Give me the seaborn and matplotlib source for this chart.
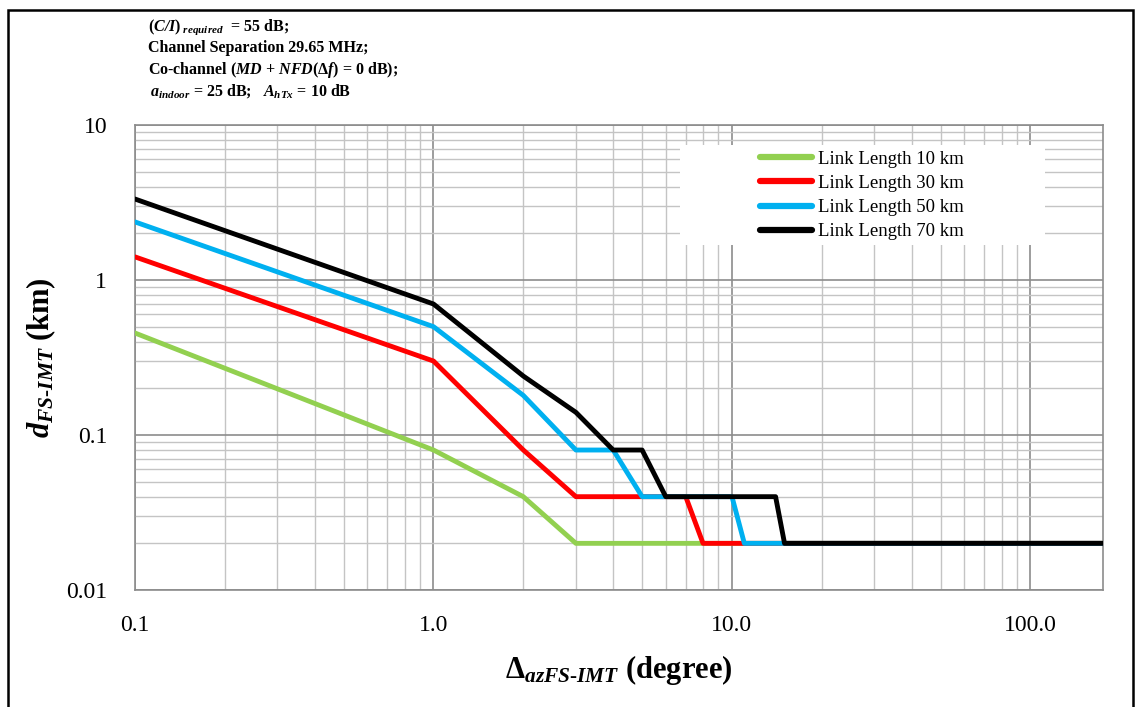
import numpy as np
import pandas as pd
import matplotlib
matplotlib.use("Agg")
import matplotlib.pyplot as plt
import seaborn as sns
from matplotlib.patches import Rectangle
from matplotlib.lines import Line2D
from matplotlib.ticker import FixedLocator, FixedFormatter, LogLocator, NullFormatter

# ---- data ----
angles = [0.1, 1, 2, 3, 4, 5, 6, 7, 8, 9, 10, 11, 12, 13, 14, 15, 180]
d_10km = [0.455, 0.08, 0.04, 0.02, 0.02, 0.02, 0.02, 0.02, 0.02, 0.02, 0.02, 0.02, 0.02, 0.02, 0.02, 0.02, 0.02]
d_30km = [1.41, 0.30, 0.08, 0.04, 0.04, 0.04, 0.04, 0.04, 0.02, 0.02, 0.02, 0.02, 0.02, 0.02, 0.02, 0.02, 0.02]
d_50km = [2.37, 0.50, 0.18, 0.08, 0.08, 0.04, 0.04, 0.04, 0.04, 0.04, 0.04, 0.02, 0.02, 0.02, 0.02, 0.02, 0.02]
d_70km = [3.33, 0.70, 0.24, 0.14, 0.08, 0.08, 0.04, 0.04, 0.04, 0.04, 0.04, 0.04, 0.04, 0.04, 0.04, 0.02, 0.02]
series_names = ["Link Length 10 km", "Link Length 30 km", "Link Length 50 km", "Link Length 70 km"]
series_values = [d_10km, d_30km, d_50km, d_70km]
colors = ["#92D050", "#FF0000", "#00B0F0", "#000000"]
x_ticks = [0.1, 1, 10, 100]
x_ticklabels = ["0.1", "1.0", "10.0", "100.0"]
y_ticks = [0.01, 0.1, 1, 10]
y_ticklabels = ["0.01", "0.1", "1", "10"]

rows = []
for name, vals in zip(series_names, series_values):
    for a, d in zip(angles, vals):
        rows.append({"angle": a, "d": d, "series": name})
df = pd.DataFrame(rows)

sns.set_style("white")
plt.rcParams["font.family"] = ["Liberation Serif", "DejaVu Serif"]
plt.rcParams["text.color"] = "black"
plt.rcParams["axes.labelcolor"] = "black"
plt.rcParams["xtick.color"] = "black"
plt.rcParams["ytick.color"] = "black"
plt.rcParams["mathtext.fontset"] = "custom"
plt.rcParams["mathtext.rm"] = "Liberation Serif"
plt.rcParams["mathtext.it"] = "Liberation Serif:italic"
plt.rcParams["mathtext.bf"] = "Liberation Serif:bold"
plt.rcParams["mathtext.bfit"] = "Liberation Serif:italic:bold"

fig = plt.figure(figsize=(11.36, 7.07), dpi=100)
ax = fig.add_axes([135/1136, 1-590/707, (1103-135)/1136, (590-125)/707])

sns.lineplot(data=df, x="angle", y="d", hue="series", palette=dict(zip(series_names, colors)),
             hue_order=series_names, linewidth=3.5, ax=ax, sort=False, legend=False, zorder=3)

ax.set_xscale("log")
ax.set_yscale("log")
ax.set_xlim(0.1, 175)
ax.set_ylim(0.01, 10)

ax.xaxis.set_major_locator(FixedLocator(x_ticks))
ax.xaxis.set_major_formatter(FixedFormatter(x_ticklabels))
ax.yaxis.set_major_locator(FixedLocator(y_ticks))
ax.yaxis.set_major_formatter(FixedFormatter(y_ticklabels))
ax.xaxis.set_minor_locator(LogLocator(base=10, subs=np.arange(2, 10)))
ax.yaxis.set_minor_locator(LogLocator(base=10, subs=np.arange(2, 10)))
ax.xaxis.set_minor_formatter(NullFormatter())
ax.yaxis.set_minor_formatter(NullFormatter())

ax.grid(True, which="major", color="#8c8c8c", linewidth=1.2, zorder=0)
ax.grid(True, which="minor", color="#c4c4c4", linewidth=1.0, zorder=0)
ax.set_axisbelow(True)
ax.tick_params(axis="both", which="both", length=0, labelsize=17, colors="black")
ax.tick_params(axis="x", pad=18)
ax.tick_params(axis="y", pad=20)
for s in ax.spines.values():
    s.set_color("#8c8c8c")
    s.set_linewidth(1.2)

ax.set_xlabel(r"$\mathbf{\Delta}_{\mathbfit{azFS\text{-}IMT}}$ (degree)", fontsize=22, fontweight="bold", labelpad=12)
ax.set_ylabel(r"$\mathbfit{d}_{\mathbfit{FS\text{-}IMT}}$ (km)", fontsize=22, fontweight="bold", labelpad=6)

# legend background box
ax.add_patch(Rectangle(((680-135)/968, (590-245)/465), (1045-680)/968, (245-145)/465,
                       transform=ax.transAxes, facecolor="white", edgecolor="none", zorder=2))
handles = [Line2D([0], [0], color=c, linewidth=4.5, solid_capstyle="round") for c in colors]
leg = ax.legend(handles, series_names, loc="upper left", bbox_to_anchor=((752-135)/968, (590-143)/465),
                frameon=False, fontsize=13.5, handlelength=2.8, handletextpad=0.3, labelspacing=0.38,
                borderaxespad=0)
leg.set_zorder(4)

# annotation text
fs = 11.5
fig.text(148/1136, 1-27/707, r"($\mathbfit{C/I}$)$_{\ \mathbfit{required}}$  = 55 dB;", fontsize=fs, fontweight="bold", va="center")
fig.text(148/1136, 1-48/707, "Channel Separation 29.65 MHz;", fontsize=fs, fontweight="bold", va="center")
fig.text(148/1136, 1-70/707, r"Co-channel ($\mathbfit{MD}$ + $\mathbfit{NFD}$($\mathbf{\Delta}\mathbfit{f}$) = 0 dB);", fontsize=fs, fontweight="bold", va="center")
fig.text(150/1136, 1-91/707, r"$\mathbfit{a}_{\mathbfit{indoor}}$ = 25 dB;   $\mathbfit{A}_{\mathbfit{hTx}}$ = 10 dB", fontsize=fs, fontweight="bold", va="center")

# outer frame
fig.patches.append(Rectangle((8/1136, -0.01), (1133-8)/1136, (704)/707, transform=fig.transFigure,
                             fill=False, edgecolor="black", linewidth=1.8))

fig.savefig("out.png", dpi=100)
